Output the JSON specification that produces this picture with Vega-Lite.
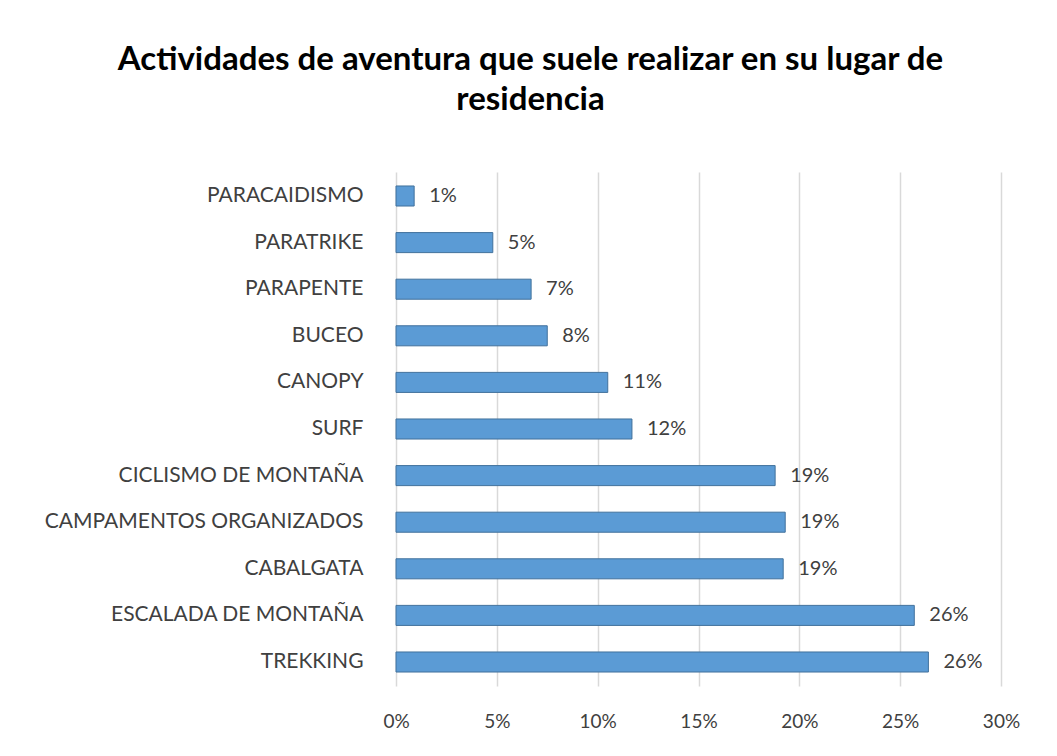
{
  "$schema": "https://vega.github.io/schema/vega-lite/v6.json",
  "autosize": "none",
  "width": 605,
  "height": 514,
  "padding": {"left": 396, "top": 172, "right": 56, "bottom": 70},
  "background": "white",
  "title": {
    "text": ["Actividades de aventura que suele realizar en su lugar de", "residencia"],
    "font": "Lato",
    "fontSize": 33,
    "fontWeight": "bold",
    "color": "#000000",
    "lineHeight": 40,
    "offset": 55,
    "dx": -168,
    "anchor": "middle"
  },
  "data": {
    "values": [
      {"actividad": "PARACAIDISMO", "valor": 0.009},
      {"actividad": "PARATRIKE", "valor": 0.048},
      {"actividad": "PARAPENTE", "valor": 0.067},
      {"actividad": "BUCEO", "valor": 0.075},
      {"actividad": "CANOPY", "valor": 0.105},
      {"actividad": "SURF", "valor": 0.117},
      {"actividad": "CICLISMO DE MONTAÑA", "valor": 0.188},
      {"actividad": "CAMPAMENTOS ORGANIZADOS", "valor": 0.193},
      {"actividad": "CABALGATA", "valor": 0.192},
      {"actividad": "ESCALADA DE MONTAÑA", "valor": 0.257},
      {"actividad": "TREKKING", "valor": 0.264}
    ]
  },
  "encoding": {
    "y": {
      "field": "actividad",
      "type": "nominal",
      "sort": null,
      "title": null,
      "scale": {"paddingInner": 0.57, "paddingOuter": 0.3},
      "axis": {
        "domain": false,
        "ticks": false,
        "grid": false,
        "labelFont": "Lato",
        "labelFontSize": 21,
        "labelColor": "#404040",
        "labelPadding": 33,
        "labelLimit": 400
      }
    },
    "x": {
      "field": "valor",
      "type": "quantitative",
      "title": null,
      "scale": {"domain": [0, 0.3], "nice": false},
      "axis": {
        "values": [0, 0.05, 0.1, 0.15, 0.2, 0.25, 0.3],
        "format": ".0%",
        "domain": false,
        "ticks": false,
        "grid": true,
        "gridColor": "#d9d9d9",
        "gridWidth": 1.5,
        "labelFlush": false,
        "labelFont": "Lato",
        "labelFontSize": 19,
        "labelColor": "#404040",
        "labelPadding": 26
      }
    }
  },
  "layer": [
    {
      "mark": {"type": "bar", "color": "#5b9bd5", "stroke": "#41719c", "strokeWidth": 1}
    },
    {
      "mark": {"type": "text", "align": "left", "dx": 15, "font": "Lato", "fontSize": 20, "color": "#404040"},
      "encoding": {
        "text": {"field": "valor", "type": "quantitative", "format": ".0%"}
      }
    }
  ],
  "config": {
    "view": {"stroke": null}
  }
}
